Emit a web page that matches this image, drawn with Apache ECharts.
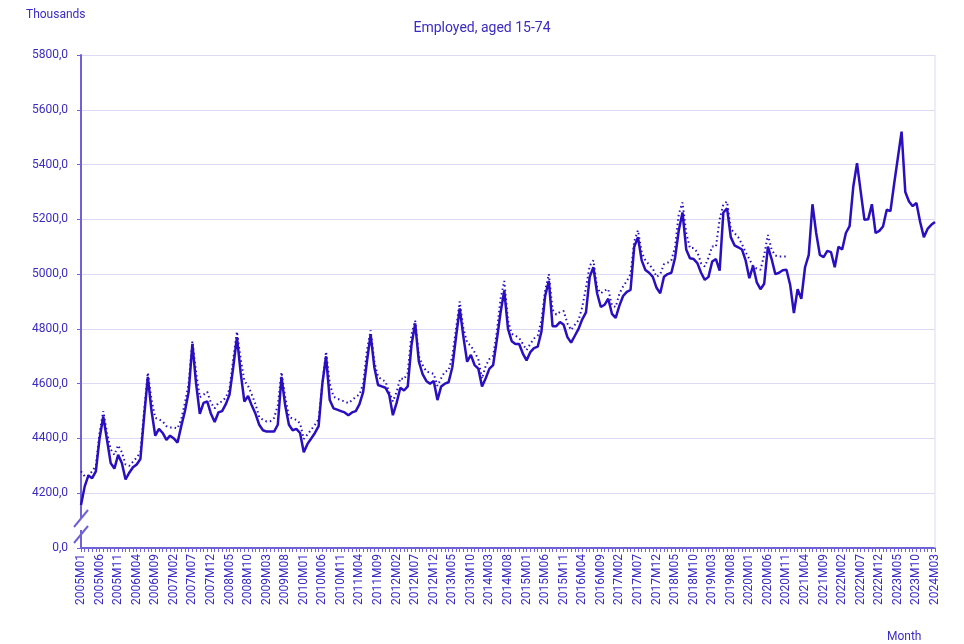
<!DOCTYPE html>
<html>
<head>
<meta charset="utf-8">
<script src="https://cdn.jsdelivr.net/npm/echarts@6/dist/echarts.min.js"></script>
<style>html,body{margin:0;padding:0;background:#fff;}#c{width:964px;height:644px;}</style>
</head>
<body>
<div id="c"></div>
<script>
// Employed, aged 15-74 (thousands), monthly 2005M01 - 2024M03
const startYear = 2005;
const endYear = 2024, endMonth = 3;
const months = [];
for (let y = startYear; y <= endYear; y++) {
  for (let m = 1; m <= 12; m++) {
    if (y === endYear && m > endMonth) break;
    months.push(y + 'M' + (m < 10 ? '0' + m : m));
  }
}

const employed = [
  4157,4225,4265,4255,4280,4400,4480,4395,4310,4290,4340,4310,
  4250,4275,4295,4305,4325,4480,4625,4500,4410,4435,4420,4395,
  4410,4400,4385,4445,4500,4570,4745,4600,4490,4530,4535,4490,
  4460,4495,4500,4525,4560,4660,4770,4640,4535,4555,4520,4490,
  4450,4430,4425,4425,4425,4450,4625,4520,4450,4430,4435,4420,
  4350,4380,4400,4420,4445,4600,4700,4540,4510,4505,4500,4495,
  4485,4495,4500,4525,4570,4680,4780,4660,4595,4590,4585,4560,
  4485,4530,4585,4575,4590,4740,4820,4680,4635,4610,4600,4610,
  4540,4590,4600,4605,4660,4770,4875,4770,4680,4705,4668,4655,
  4590,4620,4655,4668,4760,4860,4940,4800,4755,4745,4745,4710,
  4685,4715,4730,4735,4790,4920,4975,4810,4810,4825,4815,4770,
  4750,4775,4800,4835,4860,4990,5025,4930,4880,4888,4910,4855,
  4840,4885,4920,4935,4942,5100,5135,5050,5015,5005,4990,4950,
  4930,4990,5000,5005,5060,5160,5225,5090,5058,5055,5040,5005,
  4979,4990,5046,5055,5013,5225,5240,5135,5105,5098,5090,5050,
  4985,5030,4970,4945,4965,5100,5055,5000,5005,5014,5016,4960,
  4858,4945,4910,5025,5070,5255,5150,5070,5062,5085,5080,5025,
  5100,5090,5150,5175,5320,5405,5300,5198,5200,5255,5150,5158,
  5174,5235,5230,5330,5425,5520,5300,5265,5248,5260,5190,5135,
  5165,5180,5190
];

const employedOld = [
  4280,4262,4265,4280,4300,4420,4500,4420,4360,4340,4375,4350,
  4305,4300,4315,4330,4350,4500,4640,4540,4475,4470,4462,4445,
  4440,4440,4437,4470,4530,4600,4755,4640,4550,4560,4570,4530,
  4510,4530,4535,4550,4580,4690,4790,4690,4610,4592,4560,4525,
  4478,4468,4462,4463,4475,4520,4642,4550,4480,4472,4468,4455,
  4398,4415,4432,4450,4470,4600,4717,4600,4553,4545,4540,4535,
  4529,4540,4552,4560,4600,4720,4795,4680,4626,4615,4608,4570,
  4535,4570,4620,4616,4640,4780,4830,4700,4668,4645,4640,4636,
  4592,4620,4644,4648,4700,4800,4900,4800,4750,4738,4715,4690,
  4618,4665,4690,4702,4790,4910,4975,4830,4782,4775,4767,4745,
  4723,4745,4765,4775,4830,4940,5000,4870,4852,4862,4865,4820,
  4796,4815,4832,4880,4950,5030,5050,4950,4930,4940,4945,4885,
  4880,4928,4955,4975,5000,5120,5160,5080,5050,5035,5020,4990,
  5000,5036,5042,5050,5100,5220,5262,5150,5095,5095,5080,5040,
  5028,5060,5101,5100,5200,5255,5265,5165,5150,5135,5110,5080,
  5055,5028,5020,5016,5070,5143,5090,5068,5064,5064,5064
];

const yTicks = [4000, 4200, 4400, 4600, 4800, 5000, 5200, 5400, 5600, 5800];
const yBreakLabel = '0,0';

const txt = '#3a2bc4';
const lineColor = '#2a0fc0';
const axisColor = '#6f62d8';
const gridColor = '#dcdaf4';

const chart = echarts.init(document.getElementById('c'));
chart.setOption({
  backgroundColor: '#ffffff',
  animation: false,
  textStyle: { fontFamily: 'Roboto' },
  title: [
    { text: 'Employed, aged 15-74', left: 'center', top: 16,
      textStyle: { color: txt, fontSize: 14, fontWeight: 'normal', fontFamily: 'Roboto' } },
    { text: 'Thousands', left: 21, top: 4,
      textStyle: { color: txt, fontSize: 12, fontWeight: 'normal', fontFamily: 'Roboto' } },
    { text: 'Month', left: 882, top: 626,
      textStyle: { color: txt, fontSize: 12, fontWeight: 'normal', fontFamily: 'Roboto' } }
  ],
  grid: { left: 81, right: 29, top: 55, bottom: 96, containLabel: false,
          show: false },
  xAxis: {
    type: 'category',
    data: months,
    boundaryGap: false,
    axisLine: { lineStyle: { color: axisColor, width: 2 } },
    axisTick: { interval: 0, length: 4, lineStyle: { color: axisColor } },
    axisLabel: { interval: 4, rotate: 90, color: txt, fontSize: 12, margin: 6, fontFamily: 'Roboto' },
    splitLine: { show: false }
  },
  yAxis: {
    type: 'value',
    min: yTicks[0],
    max: yTicks[yTicks.length - 1],
    interval: 200,
    axisLine: { show: true, lineStyle: { color: axisColor, width: 2 } },
    axisTick: { show: true, length: 4, lineStyle: { color: axisColor } },
    axisLabel: {
      color: txt, fontSize: 12, margin: 13, fontFamily: 'Roboto',
      formatter: v => v === yTicks[0] ? yBreakLabel : v.toFixed(1).replace('.', ',')
    },
    splitLine: { lineStyle: { color: gridColor, width: 1 } }
  },
  graphic: [
    { type: 'line', shape: { x1: 935, y1: 55, x2: 935, y2: 548 }, style: { stroke: gridColor, lineWidth: 1 }, z: 1 },
    { type: 'rect', shape: { x: 77, y: 518, width: 8, height: 12 }, style: { fill: '#fff' }, z: 100 },
    { type: 'line', shape: { x1: 74, y1: 527, x2: 88, y2: 510 }, style: { stroke: axisColor, lineWidth: 2 }, z: 101 },
    { type: 'line', shape: { x1: 74, y1: 543, x2: 88, y2: 526 }, style: { stroke: axisColor, lineWidth: 2 }, z: 101 }
  ],
  series: [
    { name: 'Employed (old)', type: 'line', data: employedOld, symbol: 'none', z: 2,
      lineStyle: { color: lineColor, width: 2, type: [1.5, 3] } },
    { name: 'Employed', type: 'line', data: employed, symbol: 'none', z: 3,
      lineStyle: { color: lineColor, width: 2.5 } }
  ]
});
</script>
</body>
</html>
